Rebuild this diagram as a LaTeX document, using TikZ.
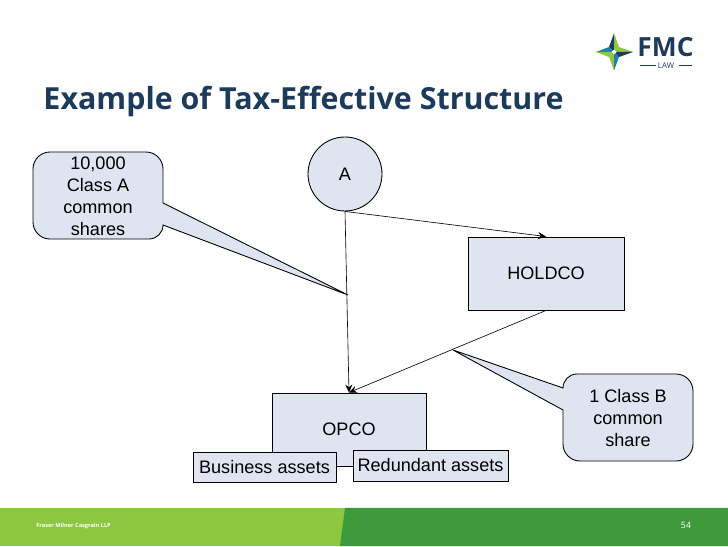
\documentclass[tikz,border=0pt]{standalone}
\usepackage{fontspec}
\setmainfont{Liberation Sans}
\newfontfamily\titlefont{Open Sans}
\usepackage{xcolor}
\usetikzlibrary{arrows.meta}
\definecolor{boxblue}{HTML}{DFE5F0}
\definecolor{navy}{HTML}{1B3A5C}
\definecolor{lightgreen}{HTML}{8DC63F}
\definecolor{darkgreen}{HTML}{3F9A3C}
\definecolor{logoteal}{HTML}{1F7FA8}
\tikzset{
  entity/.style={draw=black, fill=boxblue, line width=0.5pt, inner sep=0pt, align=center},
  calloutbox/.style={draw=black, fill=boxblue, line width=0.5pt, line join=miter},
  link/.style={draw=black, line width=0.35pt, -{Stealth[length=4.5pt,width=4pt]}}
}
\begin{document}
\begin{tikzpicture}[every node/.style={font=\fontsize{10.3}{12.5}\selectfont}]
\useasboundingbox (0,0) rectangle (14.56,10.92);

% footer band
\fill[lightgreen] (0,0) rectangle (14.56,0.76);
\fill[darkgreen] (6.80,0) -- (6.90,0.76) -- (14.56,0.76) -- (14.56,0) -- cycle;
\node[text=white, inner sep=0pt, anchor=west, font=\titlefont\bfseries\fontsize{3.2}{4}\selectfont] (firm) at (0.72,0.40) {Fraser Milner Casgrain LLP};
\node[text=white, inner sep=0pt, font=\titlefont\fontsize{5}{6}\selectfont] (page) at (13.72,0.42) {54};

% title
\node[text=navy, inner sep=0pt, font=\titlefont\bfseries\fontsize{17.3}{22}\selectfont] (title) at (6.07,8.88) {Example of Tax-Effective Structure};

% logo
\fill[navy] (12.28,10.25) -- (12.18,9.98) -- (12.28,9.88) -- cycle;
\fill[lightgreen] (12.28,10.25) -- (12.38,9.98) -- (12.28,9.88) -- cycle;
\fill[lightgreen] (12.28,9.51) -- (12.18,9.78) -- (12.28,9.88) -- cycle;
\fill[logoteal] (12.28,9.51) -- (12.38,9.78) -- (12.28,9.88) -- cycle;
\fill[logoteal] (11.92,9.88) -- (12.18,9.98) -- (12.28,9.88) -- cycle;
\fill[lightgreen] (11.92,9.88) -- (12.18,9.78) -- (12.28,9.88) -- cycle;
\fill[lightgreen] (12.66,9.88) -- (12.38,9.98) -- (12.28,9.88) -- cycle;
\fill[navy] (12.66,9.88) -- (12.38,9.78) -- (12.28,9.88) -- cycle;
\fill[white] (12.28,9.93) -- (12.33,9.88) -- (12.28,9.83) -- (12.23,9.88) -- cycle;
\node[text=navy, inner sep=0pt, font=\titlefont\bfseries\fontsize{15}{18}\selectfont] (fmc) at (13.31,9.98) {FMC};
\node[text=navy, inner sep=0pt, font=\titlefont\fontsize{4.5}{5}\selectfont] (law) at (13.32,9.60) {LAW};
\draw[navy, line width=0.4pt] (12.80,9.61) -- (13.12,9.61);
\draw[navy, line width=0.4pt] (13.58,9.61) -- (13.84,9.61);

% callouts
\coordinate (tipa) at (6.96,5.02);
\coordinate (tipb) at (9.06,3.92);
\draw[calloutbox] (3.26,6.86) -- (3.26,7.54) arc[start angle=0, end angle=90, radius=0.34] -- (1.00,7.88) arc[start angle=90, end angle=180, radius=0.34] -- (0.66,6.48) arc[start angle=180, end angle=270, radius=0.34] -- (2.98,6.14) arc[start angle=270, end angle=360, radius=0.28] -- (tipa) -- cycle;
\draw[calloutbox] (11.26,3.16) arc[start angle=180, end angle=90, radius=0.28] -- (13.52,3.44) arc[start angle=90, end angle=0, radius=0.34] -- (13.86,2.04) arc[start angle=0, end angle=-90, radius=0.34] -- (11.60,1.70) arc[start angle=-90, end angle=-180, radius=0.34] -- (11.26,2.72) -- (tipb) -- cycle;
\node[align=center, inner sep=0pt] (shareA) at (1.96,7.00) {10,000\\Class A\\common\\shares};
\node[align=center, inner sep=0pt] (shareB) at (12.56,2.56) {1 Class B\\common\\share};

% entities
\node[entity, circle, minimum size=1.48cm] (A) at (6.90,7.44) {A};
\node[entity, minimum width=3.12cm, minimum height=1.46cm] (holdco) at (10.92,5.45) {HOLDCO};
\node[entity, minimum width=3.08cm, minimum height=1.46cm] (opco) at (6.98,2.33) {OPCO};
\node[entity, minimum width=2.86cm, minimum height=0.60cm] (business) at (5.29,1.58) {Business assets};
\node[entity, minimum width=3.10cm, minimum height=0.62cm] (redundant) at (8.61,1.61) {Redundant assets};

\draw[link] (A.south) -- (opco.north);
\draw[link] (A.south) -- (holdco.north);
\draw[link] (holdco.south) -- (opco.north);
\end{tikzpicture}
\end{document}
